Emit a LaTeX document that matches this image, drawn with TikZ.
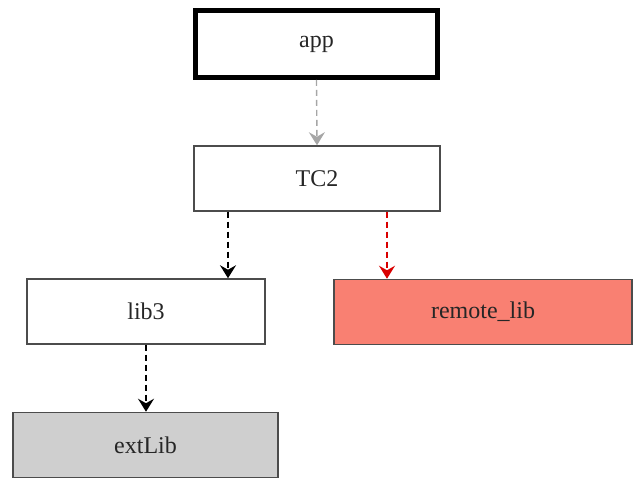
\documentclass[tikz,border=0pt]{standalone}
\usepackage{fontspec}
\setmainfont{Liberation Serif}
\usepackage{xcolor}
\usetikzlibrary{arrows.meta}
\definecolor{salmonred}{HTML}{F98072}
\definecolor{extgray}{HTML}{CFCFCF}
\definecolor{depgray}{HTML}{A6A6A6}
\begin{document}
\begin{tikzpicture}[x=1pt,y=1pt,
  modbox/.style={draw=black!70,line width=1.5pt,rectangle,minimum height=65pt,
    font=\fontsize{24}{28}\selectfont,text=black!85},
  dep/.style={->,dashed,dash pattern=on 6pt off 4pt,line width=1.4pt,
    >={Stealth[length=13pt,width=16pt,inset=4.5pt]}}]
\useasboundingbox (0,0) rectangle (635,479);
% modules
\node[modbox,draw=black,line width=5pt,minimum width=242pt,minimum height=67pt] (app) at (316.5,435) {app};
\node[modbox,minimum width=246pt] (TC2) at (317,300.5) {TC2};
\node[modbox,minimum width=238pt] (lib3) at (146,167.5) {lib3};
\node[modbox,minimum width=298pt,fill=salmonred] (remote) at (483,167) {remote\_lib};
\node[modbox,minimum width=265pt,fill=extgray] (extLib) at (145.5,34) {extLib};
% dependencies
\draw[dep,depgray] (app.south) -- (TC2.north);
\draw[dep] ([xshift=-89pt]TC2.south) -- ([xshift=-89pt]TC2.south |- lib3.north);
\draw[dep,red!85!black] ([xshift=70pt]TC2.south) -- ([xshift=70pt]TC2.south |- remote.north);
\draw[dep] (lib3.south) -- (lib3.south |- extLib.north);
\end{tikzpicture}
\end{document}
